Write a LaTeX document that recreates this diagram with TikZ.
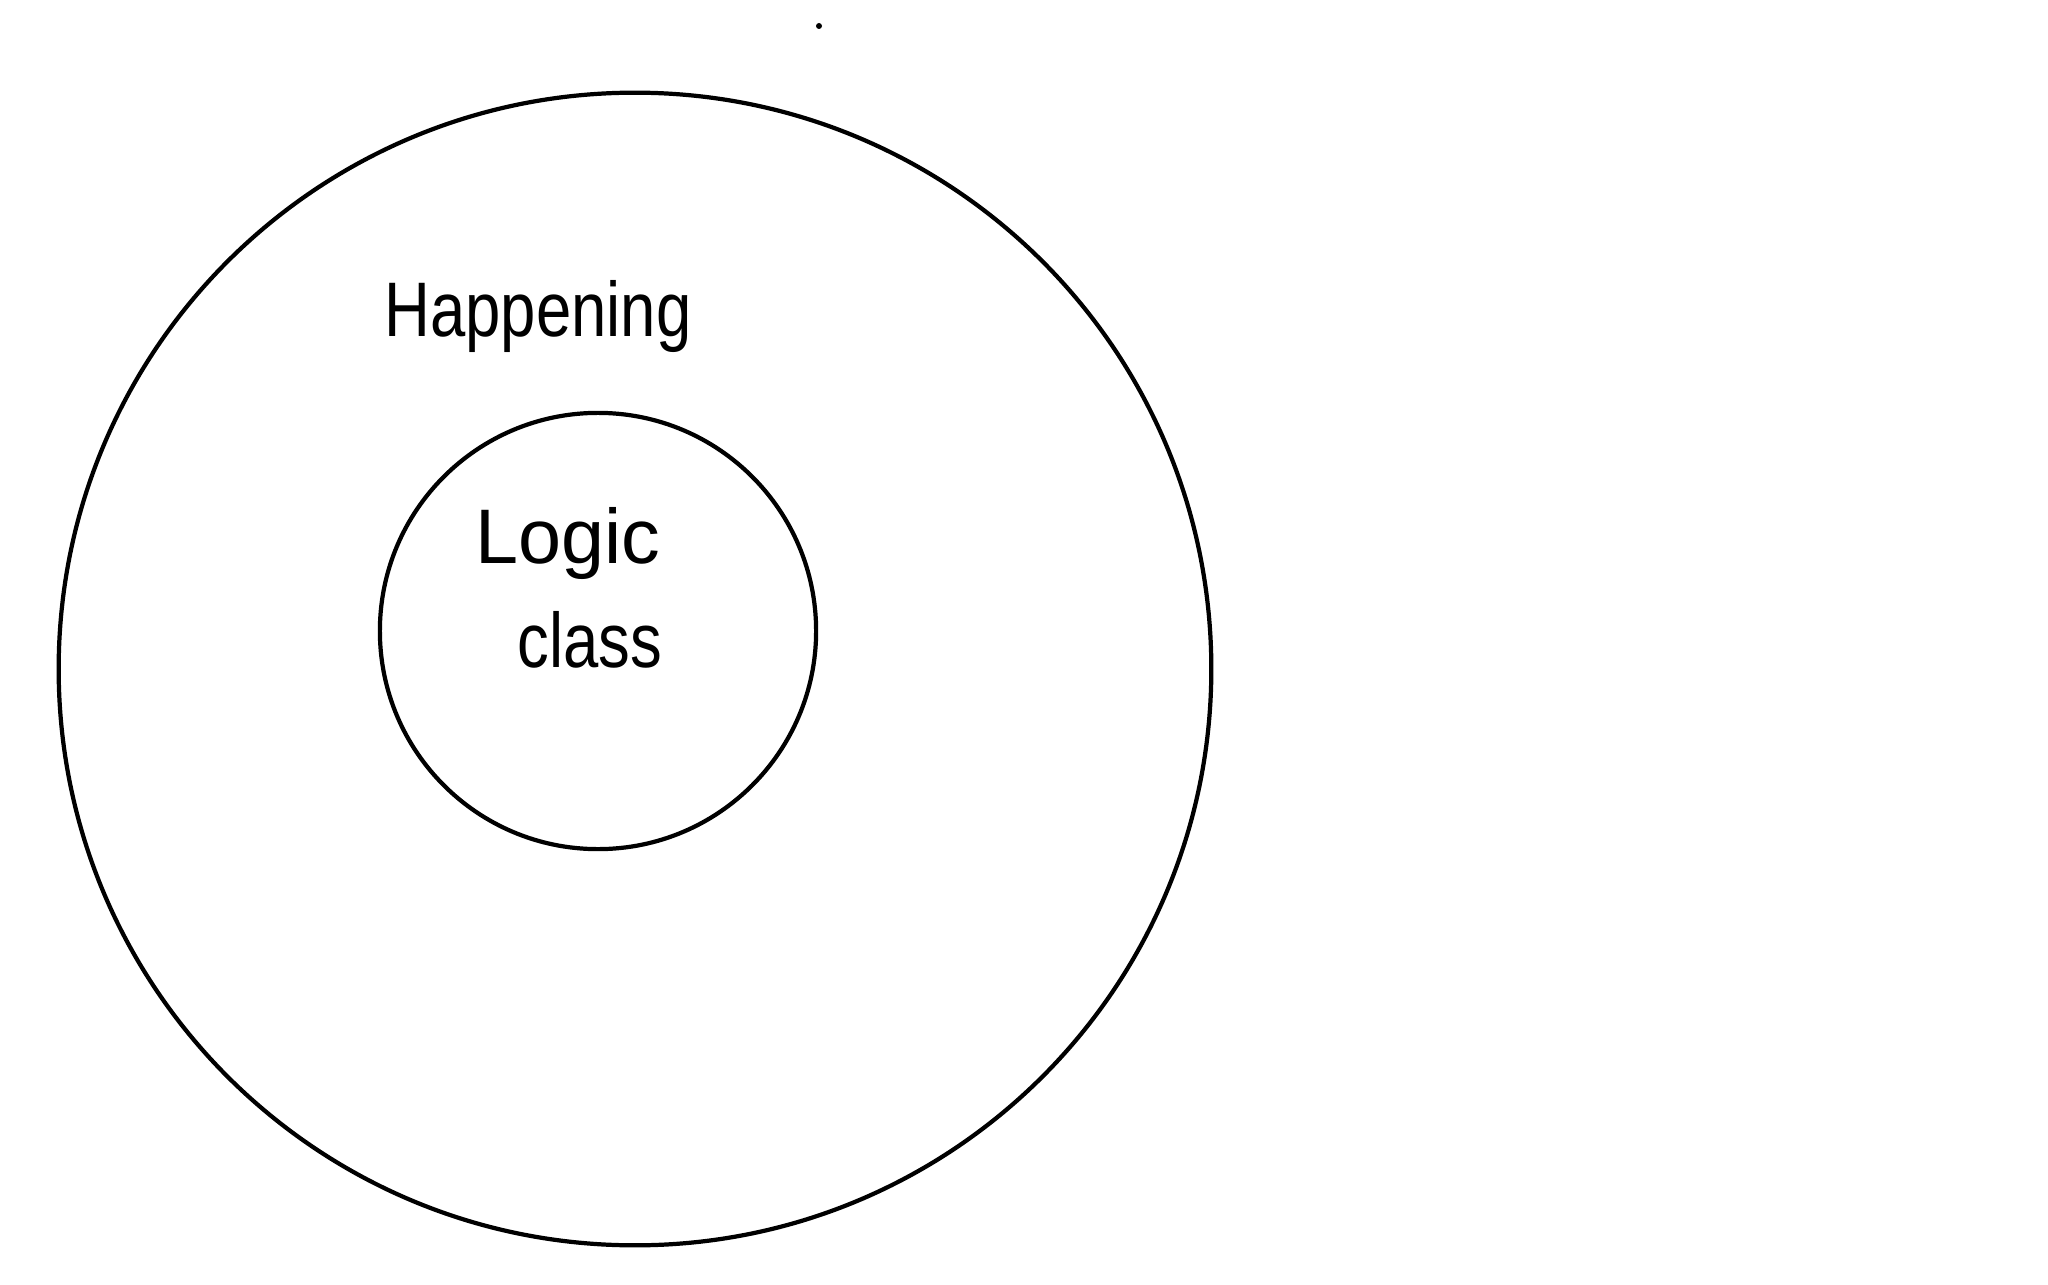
\documentclass[tikz,border=0pt]{standalone}
\usepackage{fontspec}
\setmainfont{Liberation Sans}
\usepackage{tikz}
\tikzset{%
	every set/.style={
		circle,
		draw,
		line width=1.2pt,
		inner sep=0pt
	},
	set label/.style={
		font=\fontsize{22}{24}\selectfont,
		inner sep=0pt
	},
	narrow label/.style={
		set label,
		xscale=0.82
	},
}

\begin{document}
\begin{tikzpicture}[x=0.01cm, y=-0.01cm]
		
		\useasboundingbox (0,0) rectangle (2048,1285);
		
		\node [every set, minimum size=11.52cm] (happening) at (635,669) {};
		\node [every set, minimum size=4.36cm] (logic) at (598,631) {};
		
		\node [narrow label, anchor=base] (happening-label) at (538,337) {Happening};
		\node [set label, anchor=base] (logic-label) at (568,563) {Logic};
		\node [narrow label, anchor=base] (class-label) at (590,667) {class};
		
		\node [circle, fill, inner sep=0pt, minimum size=0.06cm] (dot) at (819,26) {};
		
		\end{tikzpicture}
\end{document}
